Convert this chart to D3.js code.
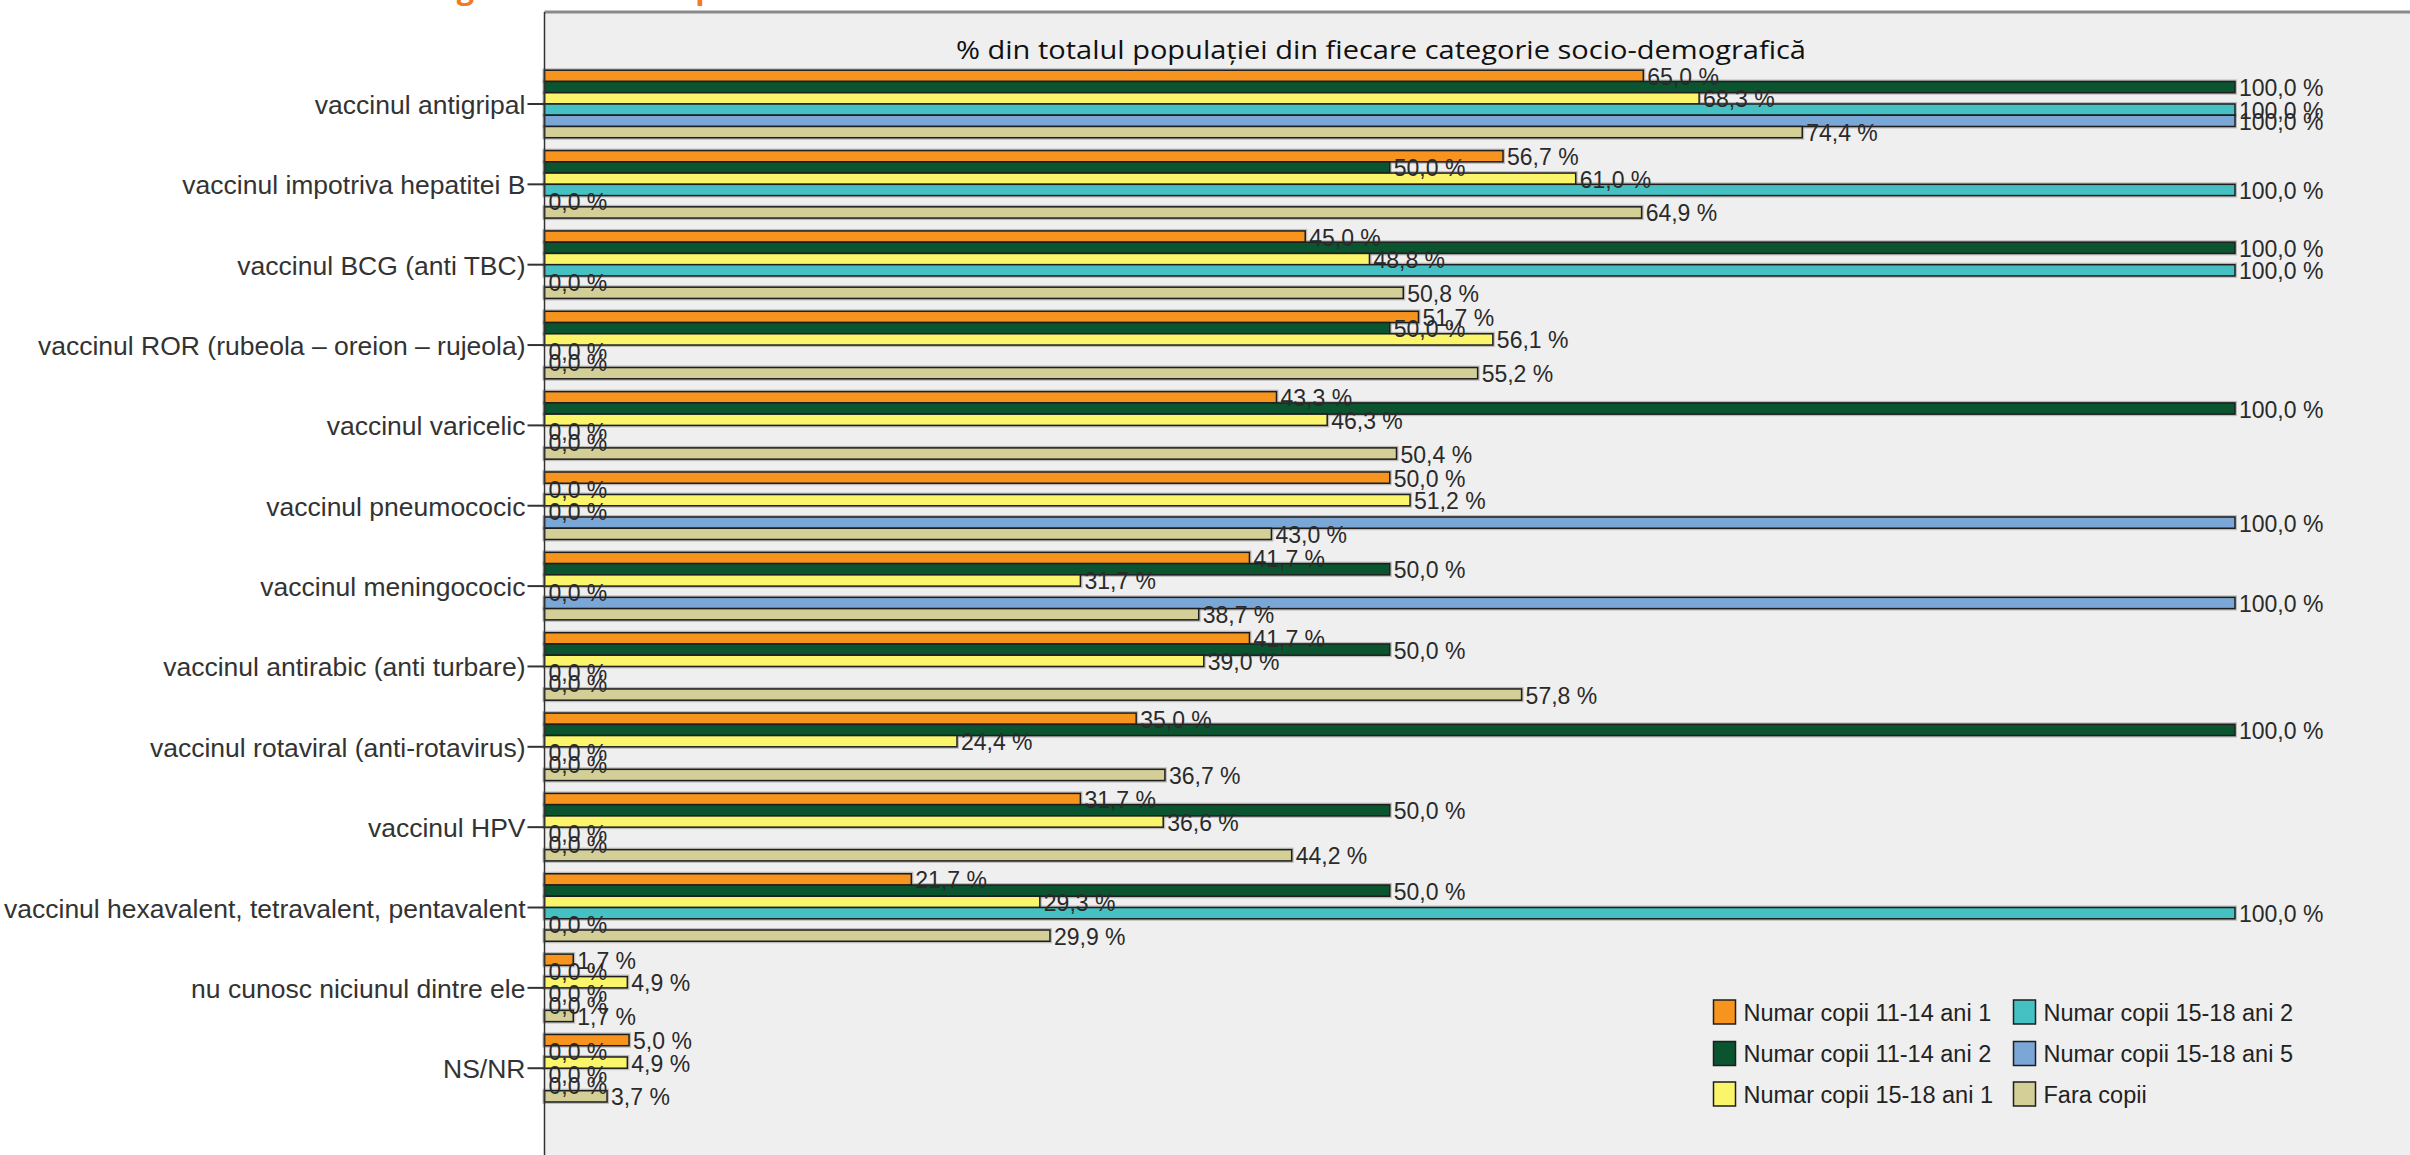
<!DOCTYPE html>
<html>
<head>
<meta charset="utf-8">
<script src="https://cdn.jsdelivr.net/npm/d3@7"></script>
<style>
  html, body { margin: 0; padding: 0; background: #ffffff; }
  svg { display: block; }
</style>
</head>
<body>
<svg id="chart" width="2410" height="1155"></svg>
<script>
// ---------- DATA ----------
const categories = [
  "vaccinul antigripal",
  "vaccinul impotriva hepatitei B",
  "vaccinul BCG (anti TBC)",
  "vaccinul ROR (rubeola \u2013 oreion \u2013 rujeola)",
  "vaccinul varicelic",
  "vaccinul pneumococic",
  "vaccinul meningococic",
  "vaccinul antirabic (anti turbare)",
  "vaccinul rotaviral (anti-rotavirus)",
  "vaccinul HPV",
  "vaccinul hexavalent, tetravalent, pentavalent",
  "nu cunosc niciunul dintre ele",
  "NS/NR"
];
const seriesNames = [
  "Numar copii 11-14 ani 1",
  "Numar copii 11-14 ani 2",
  "Numar copii 15-18 ani 1",
  "Numar copii 15-18 ani 2",
  "Numar copii 15-18 ani 5",
  "Fara copii"
];
const copii11_14_1 = [65.0, 56.7, 45.0, 51.7, 43.3, 50.0, 41.7, 41.7, 35.0, 31.7, 21.7, 1.7, 5.0];
const copii11_14_2 = [100.0, 50.0, 100.0, 50.0, 100.0, 0.0, 50.0, 50.0, 100.0, 50.0, 50.0, 0.0, 0.0];
const copii15_18_1 = [68.3, 61.0, 48.8, 56.1, 46.3, 51.2, 31.7, 39.0, 24.4, 36.6, 29.3, 4.9, 4.9];
const copii15_18_2 = [100.0, 100.0, 100.0, 0.0, 0.0, 0.0, 0.0, 0.0, 0.0, 0.0, 100.0, 0.0, 0.0];
const copii15_18_5 = [100.0, 0.0, 0.0, 0.0, 0.0, 100.0, 100.0, 0.0, 0.0, 0.0, 0.0, 0.0, 0.0];
const faraCopii    = [74.4, 64.9, 50.8, 55.2, 50.4, 43.0, 38.7, 57.8, 36.7, 44.2, 29.9, 1.7, 3.7];
const seriesValues = [copii11_14_1, copii11_14_2, copii15_18_1, copii15_18_2, copii15_18_5, faraCopii];
const seriesColors = ["#F7941E", "#0B5430", "#FAF56A", "#45C1C3", "#7AA7D6", "#D3CF97"];
const chartTitle = "% din totalul popula\u021Biei din fiecare categorie socio-demografic\u0103";
const pageHeading = "Vaccinuri cunoscute - categorii - numar copii";

// ---------- LAYOUT ----------
const svg = d3.select("#chart");
const W = 2410, H = 1155;
const plotLeft = 544.5, plotTop = 12;

const x = d3.scaleLinear().domain([0, 100]).range([plotLeft, 2235]);
const y = d3.scaleBand().domain(categories).range([63.8, 1108.4]).paddingInner(0.16).paddingOuter(0.08);
const yInner = d3.scaleBand().domain(seriesNames).range([0, y.bandwidth()]);

const fmt = v => v.toFixed(1).replace(".", ",") + " %";

// heading (cut off at top, as in the source)
svg.append("text")
  .attr("x", 60).attr("y", -1)
  .attr("font-family", "'Open Sans', 'Liberation Sans', sans-serif")
  .attr("font-weight", "bold")
  .attr("font-size", 30)
  .attr("fill", "#F47920")
  .attr("textLength", 673).attr("lengthAdjust", "spacingAndGlyphs")
  .text(pageHeading);

// plot background
svg.append("rect")
  .attr("x", plotLeft).attr("y", plotTop)
  .attr("width", W - plotLeft + 5).attr("height", H - plotTop + 5)
  .attr("fill", "#efefef");
// frame top
svg.append("line")
  .attr("x1", plotLeft).attr("x2", W).attr("y1", plotTop).attr("y2", plotTop)
  .attr("stroke", "#8a8a8a").attr("stroke-width", 3);

// title
svg.append("text")
  .attr("x", 1381).attr("y", 58.5)
  .attr("text-anchor", "middle")
  .attr("font-family", "'Open Sans', 'Noto Sans', sans-serif")
  .attr("font-size", 25)
  .attr("fill", "#111")
  .attr("textLength", 850).attr("lengthAdjust", "spacingAndGlyphs")
  .text(chartTitle);

// bars
const groups = svg.append("g").selectAll("g")
  .data(categories)
  .join("g")
  .attr("transform", d => `translate(0,${y(d)})`);

const barData = (cat, ci) => seriesNames.map((s, si) => ({ s, si, v: seriesValues[si][ci] }));

groups.each(function(cat, ci) {
  const g = d3.select(this);
  const data = barData(cat, ci);
  g.selectAll("rect.halo")
    .data(data.filter(d => d.v > 0))
    .join("rect")
    .attr("class", "halo")
    .attr("x", x(0))
    .attr("y", d => yInner(d.s))
    .attr("width", d => x(d.v) - x(0))
    .attr("height", yInner.bandwidth())
    .attr("fill", "none")
    .attr("stroke", "#9a9a9a")
    .attr("stroke-opacity", 0.6)
    .attr("stroke-width", 4);
});
groups.each(function(cat, ci) {
  const g = d3.select(this);
  const data = barData(cat, ci);
  g.selectAll("rect.bar")
    .data(data.filter(d => d.v > 0))
    .join("rect")
    .attr("class", "bar")
    .attr("x", x(0))
    .attr("y", d => yInner(d.s))
    .attr("width", d => x(d.v) - x(0))
    .attr("height", yInner.bandwidth())
    .attr("fill", d => seriesColors[d.si])
    .attr("stroke", "#1e1e1e")
    .attr("stroke-width", 1.5);
});
groups.each(function(cat, ci) {
  const g = d3.select(this);
  const data = barData(cat, ci);
  g.selectAll("text.val")
    .data(data)
    .join("text")
    .attr("class", "val")
    .attr("x", d => x(d.v) + 4)
    .attr("y", d => yInner(d.s) + yInner.bandwidth() / 2 + 9)
    .attr("font-family", "'Liberation Sans', Arial, sans-serif")
    .attr("font-size", 23)
    .attr("fill", "#2a2a2a")
    .text(d => fmt(d.v));
});

// left axis
const yAxis = d3.axisLeft(y).tickSize(17).tickPadding(2);
const axisG = svg.append("g")
  .attr("transform", `translate(${plotLeft},0)`)
  .call(yAxis);
axisG.select(".domain").remove();
axisG.selectAll(".tick line").attr("stroke", "#333").attr("stroke-width", 2);
axisG.selectAll(".tick text")
  .attr("font-family", "'Liberation Sans', Arial, sans-serif")
  .attr("font-size", 26.5)
  .attr("fill", "#333")
  .attr("dy", null)
  .attr("y", 10);
svg.append("line")
  .attr("x1", plotLeft).attr("x2", plotLeft)
  .attr("y1", plotTop).attr("y2", H)
  .attr("stroke", "#333").attr("stroke-width", 1.5);

// legend
const legendCols = [1713.5, 2013.5];
const legendRows = [1012, 1053.5, 1094];
const legend = svg.append("g").selectAll("g")
  .data(seriesNames)
  .join("g")
  .attr("transform", (d, i) => `translate(${legendCols[Math.floor(i / 3)]},${legendRows[i % 3]})`);
legend.append("rect")
  .attr("x", 0).attr("y", -12)
  .attr("width", 22).attr("height", 24)
  .attr("fill", (d, i) => seriesColors[i])
  .attr("stroke", "#1e1e1e").attr("stroke-width", 1.5);
legend.append("text")
  .attr("x", 30).attr("y", 8.5)
  .attr("font-family", "'Liberation Sans', Arial, sans-serif")
  .attr("font-size", 23.5)
  .attr("fill", "#222")
  .text(d => d);
</script>
</body>
</html>
